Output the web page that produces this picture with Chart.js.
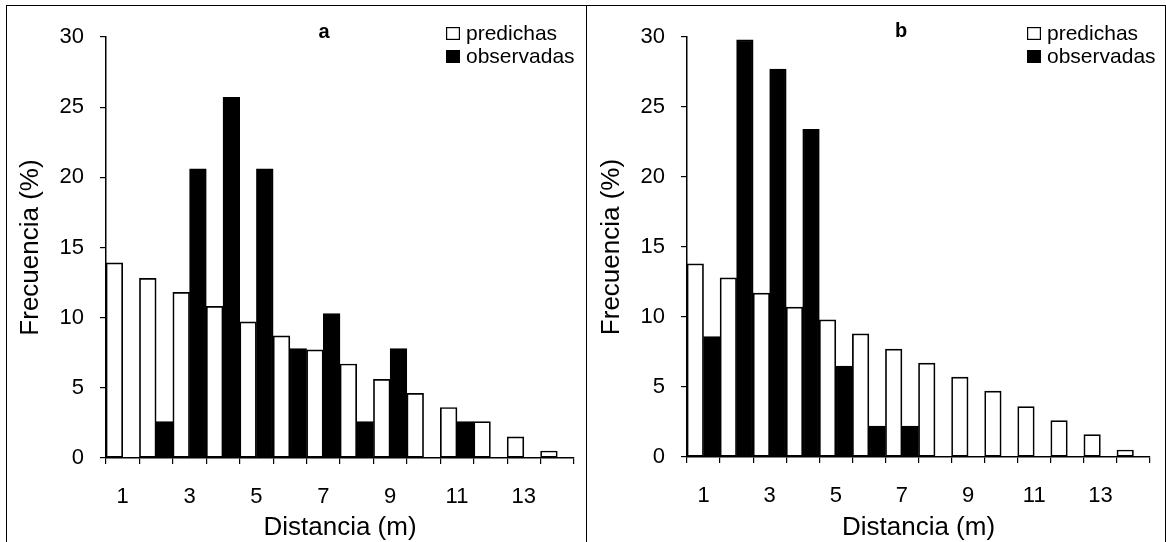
<!DOCTYPE html>
<html><head><meta charset="utf-8">
<script src="https://cdn.jsdelivr.net/npm/chart.js@4.4.0/dist/chart.umd.min.js"></script>
<style>
html,body{margin:0;padding:0;background:#fff;}
#wrap{position:relative;width:1166px;height:542px;overflow:hidden;background:#fff;}
canvas{position:absolute;top:0;}
.ln{position:absolute;background:#000;}
</style></head><body>
<div id="wrap">
  <div class="ln" style="left:6px;top:5px;width:1160px;height:1px"></div>
  <div class="ln" style="left:6px;top:5px;width:1px;height:537px"></div>
  <div class="ln" style="left:586px;top:5px;width:1px;height:537px"></div>
  <div class="ln" style="left:1165px;top:5px;width:1px;height:537px"></div>
  <canvas id="ca" width="586" height="542" style="left:0px"></canvas>
  <canvas id="cb" width="578" height="542" style="left:587px"></canvas>
</div>
<script>
const categories = ['1','2','3','4','5','6','7','8','9','10','11','12','13','14'];
const xTickLabels = ['1','','3','','5','','7','','9','','11','','13',''];
const yTicks = [0,5,10,15,20,25,30];
const predichasA  = [13.9,12.8,11.8,10.8,9.7,8.7,7.7,6.7,5.6,4.6,3.6,2.6,1.5,0.5];
const observadasA = [0,2.6,20.6,25.7,20.6,7.8,10.3,2.6,7.8,0,2.6,0,0,0];
const predichasB  = [13.8,12.8,11.7,10.7,9.8,8.8,7.7,6.7,5.7,4.7,3.6,2.6,1.6,0.5];
const observadasB = [8.6,29.8,27.7,23.4,6.5,2.2,2.2,0,0,0,0,0,0,0];

const FONT = '"Liberation Sans", Arial, sans-serif';

const panelPlugin = {
  id: 'panelDeco',
  afterDraw(chart, args, o) {
    const ctx = chart.ctx;
    ctx.save();
    ctx.fillStyle = '#000';
    ctx.font = 'bold 20px ' + FONT;
    ctx.textAlign = 'center';
    ctx.textBaseline = 'alphabetic';
    ctx.fillText(o.letter, o.letterX, o.letterY);
    ctx.font = '21px ' + FONT;
    ctx.textAlign = 'left';
    chart.data.datasets.forEach((ds, i) => {
      const by = o.y + i * o.dy;
      ctx.fillStyle = ds.backgroundColor;
      ctx.fillRect(o.x, by - 13, 14, 13);
      ctx.lineWidth = 1.2;
      ctx.strokeStyle = '#000';
      ctx.strokeRect(o.x + 0.6, by - 12.4, 12.8, 11.8);
      ctx.fillStyle = '#000';
      ctx.fillText(ds.label, o.x + 20, by);
    });
    ctx.restore();
  }
};

function makeChart(id, pred, obs, cfg) {
  return new Chart(document.getElementById(id), {
    type: 'bar',
    data: {
      labels: categories,
      datasets: [
        { label: 'predichas', data: pred, backgroundColor: '#ffffff', borderColor: '#000000', borderWidth: 1.7, borderSkipped: false,
          categoryPercentage: 1.0, barPercentage: 1.0 },
        { label: 'observadas', data: obs, backgroundColor: '#000000', borderColor: '#000000', borderWidth: 1.7, borderSkipped: false,
          categoryPercentage: 1.0, barPercentage: 1.0 }
      ]
    },
    options: {
      responsive: false,
      animation: false,
      devicePixelRatio: 1,
      layout: { padding: { top: 37, right: cfg.padRight, bottom: 0, left: 0 } },
      plugins: {
        legend: { display: false },
        tooltip: { enabled: false },
        panelDeco: cfg.deco
      },
      scales: {
        x: {
          type: 'category',
          offset: true,
          afterFit(s) { s.height = cfg.xHeight; },
          grid: { display: true, offset: true, drawOnChartArea: false, drawTicks: true, tickLength: 6, color: '#000', lineWidth: 1.2 },
          border: { display: true, color: '#000', width: 1.5 },
          ticks: {
            autoSkip: false, maxRotation: 0, minRotation: 0, padding: 20,
            color: '#000', font: { family: FONT, size: 22 },
            callback: (v, i) => xTickLabels[i]
          },
          title: { display: true, text: 'Distancia (m)', color: '#000', font: { family: FONT, size: 26, lineHeight: 1 }, padding: { top: 0, bottom: 1 } }
        },
        y: {
          min: 0, max: 30,
          afterFit(s) { s.width = cfg.yWidth; },
          afterBuildTicks(s) { s.ticks = yTicks.map(v => ({ value: v })); },
          grid: { display: true, drawOnChartArea: false, drawTicks: true, tickLength: 6, color: '#000', lineWidth: 1.2 },
          border: { display: true, color: '#000', width: 1.5 },
          ticks: { padding: 16, color: '#000', font: { family: FONT, size: 22 } },
          title: { display: true, text: 'Frecuencia (%)', color: '#000', font: { family: FONT, size: 26, lineHeight: 1 }, padding: { top: cfg.yTitlePad, bottom: 0 } }
        }
      }
    },
    plugins: [panelPlugin]
  });
}

makeChart('ca', predichasA, observadasA, {
  padRight: 12, xHeight: 84, yWidth: 106, yTitlePad: 18,
  deco: { letter: 'a', letterX: 324, letterY: 38, x: 446, y: 40, dy: 23 }
});
makeChart('cb', predichasB, observadasB, {
  padRight: 15, xHeight: 85, yWidth: 100, yTitlePad: 12,
  deco: { letter: 'b', letterX: 314, letterY: 37, x: 440, y: 40, dy: 23 }
});
</script>
</body></html>
